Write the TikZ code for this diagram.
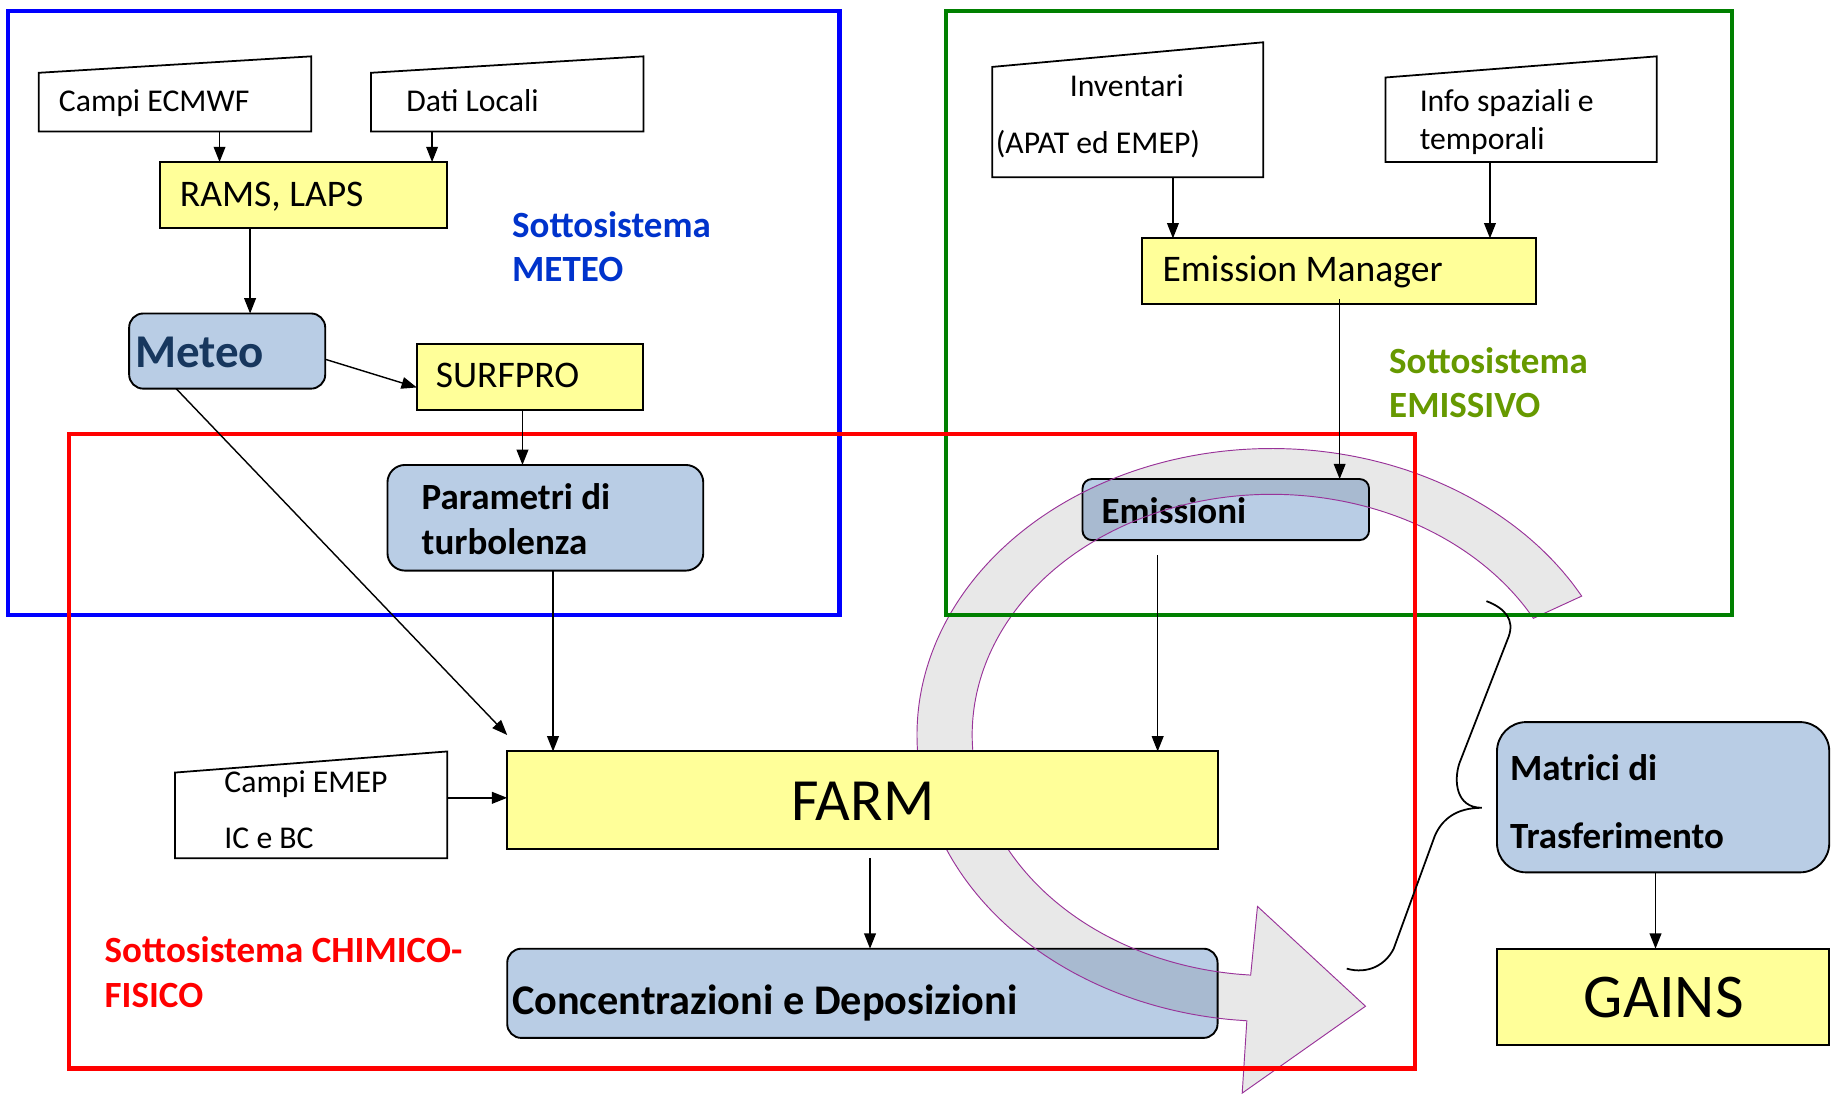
\documentclass[tikz,border=0pt]{standalone}
\usepackage{fontspec}
\setmainfont{Carlito}
\usetikzlibrary{arrows.meta,calc}
\definecolor{boxyellow}{HTML}{FFFF99}
\definecolor{boxblue}{HTML}{B9CDE5}
\definecolor{navytext}{HTML}{17375E}
\definecolor{meteoblue}{HTML}{0033CC}
\definecolor{emigreen}{HTML}{669900}
\definecolor{framegreen}{HTML}{008000}
\definecolor{arcpurple}{HTML}{993399}
\begin{document}
\begin{tikzpicture}[x=1pt,y=-1pt,
  area/.style={rectangle, anchor=north west, inner sep=0pt, outer sep=0pt},
  ybox/.style={area, draw=black, line width=1.6pt, fill=boxyellow},
  bbox/.style={area, draw=black, line width=1.6pt, fill=boxblue},
  inshape/.style={draw=black, line width=1.5pt, fill=white},
  frame/.style={line width=3.5pt},
  arr/.style={line width=1.2pt, -{Triangle[length=13pt,width=10pt]}},
  txt/.style={anchor=base west, inner sep=0pt},
  fin/.style={txt, font=\fontsize{27}{32}\selectfont},
  fy/.style={txt, font=\fontsize{32}{38}\selectfont},
  fb/.style={txt, font=\fontsize{31.5}{38}\selectfont\bfseries},
]
\useasboundingbox (0,0) rectangle (1568,931);

% boxes lying under the big arrow
\node[bbox, rounded corners=8pt, minimum width=244pt, minimum height=52pt] (emis) at (922,408) {};
\node[fb] (temis) at (938,446) {Emissioni};
\node[bbox, rounded corners=12pt, minimum width=605pt, minimum height=76pt] (conc) at (432,808) {};
\node[txt, font=\fontsize{36}{42}\selectfont\bfseries] (tconc) at (436,864) {Concentrazioni e Deposizioni};

% big curved arrow
\draw[draw=arcpurple, line width=0.8pt, fill=black, fill opacity=0.09]
  plot[domain=29:266, samples=80, smooth] ({1083+302*cos(\x)},{626-244*sin(\x)})
  -- (1058,931) -- (1163,857) -- (1071,772)
  -- plot[domain=266:29, samples=80, smooth] ({1083+255*cos(\x)},{626-205*sin(\x)})
  -- cycle;

% frames
\draw[frame, blue] (7,9) rectangle (715,524);
\draw[frame, framegreen] (806,9) rectangle (1475,524);
\draw[frame, red] (59,370) rectangle (1205,910);

% METEO subsystem
\node[area, minimum width=232pt, minimum height=64pt] (ecmwf) at (33,48) {};
\draw[inshape] (ecmwf.south west) -- (ecmwf.south east) -- (ecmwf.north east) -- ([yshift=-14pt]ecmwf.north west) -- cycle;
\node[fin] (tecmwf) at (50,95) {Campi ECMWF};
\node[area, minimum width=232pt, minimum height=64pt] (dati) at (316,48) {};
\draw[inshape] (dati.south west) -- (dati.south east) -- (dati.north east) -- ([yshift=-14pt]dati.north west) -- cycle;
\node[fin] (tdati) at (346,95) {Dati Locali};
\node[ybox, minimum width=245pt, minimum height=56pt] (rams) at (136,138) {};
\node[fy] (trams) at (153,176) {RAMS, LAPS};
\node[bbox, rounded corners=12pt, minimum width=167pt, minimum height=64pt] (meteo) at (110,267) {};
\node[txt, font=\fontsize{40}{46}\selectfont\bfseries, text=navytext] (tmeteo) at (115,313) {Meteo};
\node[ybox, minimum width=193pt, minimum height=56pt] (surfpro) at (355,293) {};
\node[fy] (tsurf) at (371,330) {SURFPRO};
\node[bbox, rounded corners=15pt, minimum width=269pt, minimum height=90pt] (param) at (330,396) {};
\node[fb] (tparam1) at (359,434) {Parametri di};
\node[fb] (tparam2) at (359,472) {turbolenza};
\node[fb, text=meteoblue] (lmet1) at (436,202) {Sottosistema};
\node[fb, text=meteoblue] (lmet2) at (436,240) {METEO};

% EMISSIVO subsystem
\node[area, minimum width=231pt, minimum height=115pt] (invent) at (845,36) {};
\draw[inshape] (invent.south west) -- (invent.south east) -- (invent.north east) -- ([yshift=-21pt]invent.north west) -- cycle;
\node[fin] (tinv1) at (911,82) {Inventari};
\node[fin] (tinv2) at (848,131) {(APAT ed EMEP)};
\node[area, minimum width=231pt, minimum height=90pt] (info) at (1180,48) {};
\draw[inshape] (info.south west) -- (info.south east) -- (info.north east) -- ([yshift=-18pt]info.north west) -- cycle;
\node[fin] (tinfo1) at (1209,95) {Info spaziali e};
\node[fin] (tinfo2) at (1209,127) {temporali};
\node[ybox, minimum width=335pt, minimum height=56pt] (em) at (973,203) {};
\node[fy] (tem) at (990,240) {Emission Manager};
\node[fb, text=emigreen] (lemi1) at (1183,318) {Sottosistema};
\node[fb, text=emigreen] (lemi2) at (1183,356) {EMISSIVO};

% CHIMICO-FISICO subsystem
\node[ybox, minimum width=605pt, minimum height=83pt] (farm) at (432,640) {};
\node[anchor=base, inner sep=0pt, font=\fontsize{51}{58}\selectfont] (tfarm) at (735,699) {FARM};
\node[area, minimum width=232pt, minimum height=91pt] (emep) at (149,640) {};
\draw[inshape] (emep.south west) -- (emep.south east) -- (emep.north east) -- ([yshift=-18pt]emep.north west) -- cycle;
\node[fin] (temep1) at (191,675) {Campi EMEP};
\node[fin] (temep2) at (191,723) {IC e BC};
\node[fb, text=red] (lchi1) at (89,820) {Sottosistema CHIMICO-};
\node[fb, text=red] (lchi2) at (89,858) {FISICO};

% right column
\node[bbox, rounded corners=25pt, minimum width=283pt, minimum height=128pt] (matrici) at (1275,615) {};
\node[fb] (tmat1) at (1286,665) {Matrici di};
\node[fb] (tmat2) at (1286,723) {Trasferimento};
\node[ybox, minimum width=283pt, minimum height=82pt] (gains) at (1275,808) {};
\node[anchor=base, inner sep=0pt, font=\fontsize{53}{60}\selectfont] (tgains) at (1417,867) {GAINS};

% connectors
\draw[arr] (187,0 |- ecmwf.south) -- (187,0 |- rams.north);
\draw[arr] (368,0 |- dati.south) -- (368,0 |- rams.north);
\draw[arr] (213,0 |- rams.south) -- (213,0 |- meteo.north);
\draw[arr] ([yshift=-7pt]meteo.east) -- ([yshift=-9pt]surfpro.west);
\draw[arr] (445,0 |- surfpro.south) -- (445,0 |- param.north);
\draw[arr] (150,0 |- meteo.south) -- ([yshift=14pt]farm.north west);
\draw[arr] (471,0 |- param.south) -- (471,0 |- farm.north);
\draw[arr] (999,0 |- invent.south) -- (999,0 |- em.north);
\draw[arr] (1269,0 |- info.south) -- (1269,0 |- em.north);
\draw[arr] ([yshift=4pt]1141,0 |- em.south) -- (1141,0 |- emis.north);
\draw[arr] ([yshift=-13pt]986,0 |- emis.south) -- (986,0 |- farm.north);
\draw[arr] ([yshift=6pt]emep.east) -- ([yshift=6pt]emep.east -| farm.west);
\draw[arr] ([yshift=-8pt]741,0 |- farm.south) -- (741,0 |- conc.north);
\draw[arr] (1410,0 |- matrici.south) -- (1410,0 |- gains.north);

% curly brace
\draw[line width=1.5pt]
  (1266,512) .. controls (1282,518) and (1290,528) .. (1285,542)
  -- (1243,650)
  .. controls (1238,665) and (1240,688) .. (1262,688)
  .. controls (1240,688) and (1228,698) .. (1222,712)
  -- (1187,808)
  .. controls (1180,822) and (1165,830) .. (1147,825);
\end{tikzpicture}
\end{document}
